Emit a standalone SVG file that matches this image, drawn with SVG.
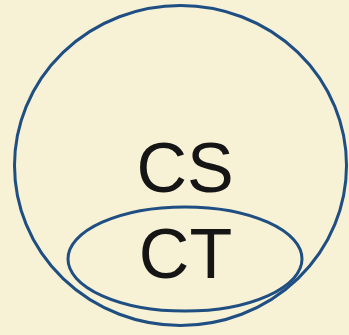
<svg xmlns="http://www.w3.org/2000/svg" width="349" height="335" viewBox="0 0 349 335">
<style>
.set{fill:none;stroke:#1f4f82;stroke-width:3}
.lbl{font-family:"Liberation Sans",Arial,sans-serif;font-size:70px;fill:#151515;text-anchor:middle}
</style>
<rect width="349" height="335" fill="#f7f1d6"/>
<g id="CS">
<ellipse class="set" cx="180.5" cy="165.5" rx="166" ry="160"/>
<text class="lbl" x="185" y="192">CS</text>
</g>
<g id="CT">
<ellipse class="set" cx="185" cy="259" rx="117" ry="52"/>
<text class="lbl" x="185.5" y="278">CT</text>
</g>
<g id="connectors"/>
</svg>
